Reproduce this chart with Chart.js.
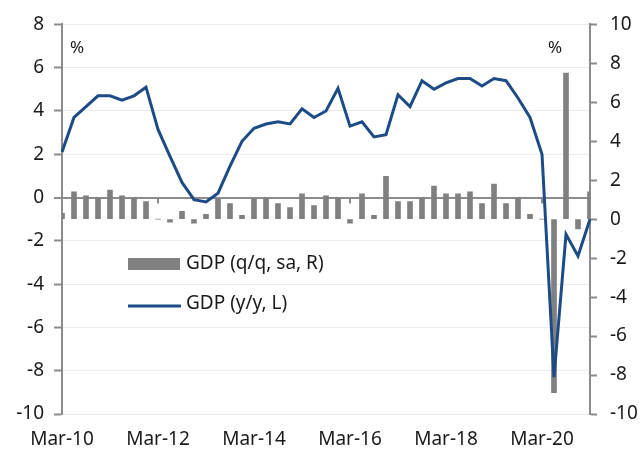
<!DOCTYPE html>
<html>
<head>
<meta charset="utf-8">
<script src="https://cdn.jsdelivr.net/npm/chart.js@4/dist/chart.umd.min.js"></script>
<style>
html, body { margin: 0; padding: 0; background: #fff; }
</style>
</head>
<body>
<canvas id="gdp-chart" width="644" height="450"></canvas>
<script>
// quarters, Mar-10 .. Mar-21
var quarters = [
    'Mar-10', 'Jun-10', 'Sep-10', 'Dec-10',
    'Mar-11', 'Jun-11', 'Sep-11', 'Dec-11',
    'Mar-12', 'Jun-12', 'Sep-12', 'Dec-12',
    'Mar-13', 'Jun-13', 'Sep-13', 'Dec-13',
    'Mar-14', 'Jun-14', 'Sep-14', 'Dec-14',
    'Mar-15', 'Jun-15', 'Sep-15', 'Dec-15',
    'Mar-16', 'Jun-16', 'Sep-16', 'Dec-16',
    'Mar-17', 'Jun-17', 'Sep-17', 'Dec-17',
    'Mar-18', 'Jun-18', 'Sep-18', 'Dec-18',
    'Mar-19', 'Jun-19', 'Sep-19', 'Dec-19',
    'Mar-20', 'Jun-20', 'Sep-20', 'Dec-20',
    'Mar-21'
];

// GDP q/q, sa (right axis)
var gdpQoq = [
    0.3, 1.4, 1.2, 1.1, 1.5, 1.2, 1.1, 0.9,
    0.0, -0.15, 0.4, -0.2, 0.25, 1.05, 0.8, 0.2,
    1.05, 1.1, 0.8, 0.6, 1.3, 0.7, 1.2, 1.1,
    -0.2, 1.3, 0.2, 2.2, 0.9, 0.9, 1.1, 1.7,
    1.3, 1.3, 1.4, 0.8, 1.8, 0.8, 1.1, 0.25,
    0.0, -8.9, 7.5, -0.5, 1.4
];

// GDP y/y (left axis)
var gdpYoy = [
    2.1, 3.7, 4.2, 4.7, 4.7, 4.5, 4.7, 5.1,
    3.15, 1.9, 0.7, -0.1, -0.2, 0.2, 1.45, 2.6,
    3.2, 3.4, 3.5, 3.4, 4.1, 3.7, 4.0, 5.05,
    3.3, 3.5, 2.8, 2.9, 4.75, 4.2, 5.4, 5.0,
    5.3, 5.5, 5.5, 5.15, 5.5, 5.4, 4.6, 3.7,
    2.0, -8.3, -1.7, -2.7, -1.0
];

var axisGrey = '#8c8c8c';
var barGrey = '#808080';
var lineBlue = '#1d4b85';
var textColor = '#1a1a1a';

Chart.defaults.font.family = "'Noto Sans', sans-serif";
Chart.defaults.font.size = 19;
Chart.defaults.color = textColor;

// % labels, small x-axis ticks and the in-plot legend
var extras = {
    id: 'extras',
    beforeDatasetsDraw: function (chart) {
        var ctx = chart.ctx;
        var x = chart.scales.x;
        var zero = chart.scales.y.getPixelForValue(0);
        ctx.save();
        ctx.strokeStyle = axisGrey;
        ctx.lineWidth = 2;
        for (var i = 0; i < quarters.length; i++) {
            if (i % 16 !== 8) continue;
            var px = x.getPixelForValue(i);
            ctx.beginPath();
            ctx.moveTo(px, zero);
            ctx.lineTo(px, zero + 6);
            ctx.stroke();
        }
        ctx.restore();
    },
    afterDraw: function (chart) {
        var ctx = chart.ctx;
        var area = chart.chartArea;
        ctx.save();
        ctx.fillStyle = textColor;
        ctx.font = "17px 'Noto Sans', sans-serif";
        ctx.textBaseline = 'middle';
        ctx.textAlign = 'left';
        ctx.fillText('%', area.left + 8, area.top + 24);
        ctx.fillText('%', area.right - 42, area.top + 24);

        // legend
        var ds = chart.data.datasets;
        var lx = area.left + 66;
        var rowBar = 264;
        var rowLine = 304;
        ctx.fillStyle = ds[1].backgroundColor;
        ctx.fillRect(lx, rowBar - 6, 52, 12);
        ctx.strokeStyle = ds[0].borderColor;
        ctx.lineWidth = 3;
        ctx.beginPath();
        ctx.moveTo(lx, rowLine + 2);
        ctx.lineTo(lx + 53, rowLine + 2);
        ctx.stroke();
        ctx.fillStyle = textColor;
        ctx.font = "19px 'Noto Sans', sans-serif";
        ctx.fillText(ds[1].label, lx + 58, rowBar);
        ctx.fillText(ds[0].label, lx + 58, rowLine);
        ctx.restore();
    }
};

var gdpChartNode = document.getElementById('gdp-chart').getContext('2d');
var gdpChart = new Chart(gdpChartNode, {
    data: {
        labels: quarters,
        datasets: [{
            type: 'line',
            label: 'GDP (y/y, L)',
            data: gdpYoy,
            yAxisID: 'y',
            borderColor: lineBlue,
            borderWidth: 3,
            pointRadius: 0,
            tension: 0,
            order: 0
        }, {
            type: 'bar',
            label: 'GDP (q/q, sa, R)',
            data: gdpQoq,
            yAxisID: 'y2',
            backgroundColor: barGrey,
            barThickness: 5,
            order: 1
        }]
    },
    options: {
        responsive: false,
        animation: false,
        devicePixelRatio: 1,
        layout: {
            padding: { top: 22, left: 0, right: 0, bottom: 0 }
        },
        plugins: {
            legend: { display: false },
            tooltip: { enabled: false },
            title: { display: false }
        },
        scales: {
            x: {
                offset: false,
                grid: { display: false, drawTicks: false },
                border: { display: false },
                ticks: {
                    autoSkip: false,
                    maxRotation: 0,
                    padding: 14,
                    callback: function (val, idx) {
                        return idx % 8 === 0 ? quarters[idx] : null;
                    }
                },
                afterFit: function (s) { s.height = 36; }
            },
            y: {
                position: 'left',
                min: -10,
                max: 8,
                ticks: { stepSize: 2, padding: 10 },
                grid: {
                    color: function (c) { return c.tick && c.tick.value === 0 ? axisGrey : '#ececec'; },
                    lineWidth: function (c) { return c.tick && c.tick.value === 0 ? 2 : 1; },
                    tickColor: axisGrey,
                    tickLength: 8,
                    tickWidth: 2
                },
                border: { color: axisGrey, width: 2 },
                afterFit: function (s) { s.width = 62; }
            },
            y2: {
                position: 'right',
                min: -10,
                max: 10,
                ticks: { stepSize: 2, padding: 13 },
                grid: {
                    drawOnChartArea: false,
                    tickColor: axisGrey,
                    tickLength: 7,
                    tickWidth: 2
                },
                border: { color: axisGrey, width: 2 },
                afterFit: function (s) { s.width = 54; }
            }
        }
    },
    plugins: [extras]
});
</script>
</body>
</html>
